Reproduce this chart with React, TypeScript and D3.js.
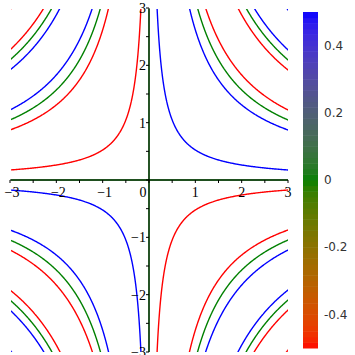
import * as d3 from 'd3';

// contour levels of f(x, y) = sin(x*y) and their colours
const levels = [-0.5, 0, 0.5];
const levelColors = ['#ff0000', '#008000', '#0000ff'];

const xTicks = [-3, -2, -1, 0, 1, 2, 3];
const yTicks = [-3, -2, -1, 1, 2, 3];
const minorTicks = d3.range(-3, 3.01, 0.5);
const barTicks = [-0.4, -0.2, 0, 0.2, 0.4];
const barLabels = ['-0.4', '-0.2', '0', '0.2', '0.4'];

const W = 355;
const H = 355;

export default function App() {
  const x = d3.scaleLinear().domain([-3, 3]).range([10, 288]);
  const y = d3.scaleLinear().domain([-3, 3]).range([352, 8]);

  // sample grid a little wider than the view so border edges get clipped
  const n = 400;
  const g0 = -3.1;
  const g1 = 3.1;
  const step = (g1 - g0) / (n - 1);
  const values = new Array(n * n);
  for (let j = 0; j < n; j++) {
    for (let i = 0; i < n; i++) {
      const gx = g0 + i * step;
      const gy = g0 + j * step;
      values[j * n + i] = Math.sin(gx * gy);
    }
  }
  const contours = d3.contours().size([n, n]).thresholds(levels)(values);

  const proj = d3.geoTransform({
    point(px: number, py: number) {
      const dx = g0 + (px - 0.5) * step;
      const dy = g0 + (py - 0.5) * step;
      this.stream.point(x(dx), y(dy));
    },
  });
  const path = d3.geoPath(proj);

  const color = d3
    .scaleLinear<string>()
    .domain([-0.5, 0, 0.5])
    .range(levelColors)
    .interpolate(d3.interpolateLab);

  const bar = d3.scaleLinear().domain([-0.5, 0.5]).range([348, 12]);
  const bands = d3.range(-0.5, 0.5, 1 / 60);

  return (
    <svg
      width={W}
      height={H}
      style={{ position: 'absolute', left: 0, top: 0, background: '#fff' }}
    >
      <defs>
        <clipPath id="plot">
          <rect x={x(-3) + 1} y={y(3) + 1} width={x(3) - x(-3) - 1} height={y(-3) - y(3) - 1} />
        </clipPath>
      </defs>

      <g clipPath="url(#plot)">
        {contours.map((c, k) => (
          <path
            key={k}
            d={path(c as any) || ''}
            fill="none"
            stroke={levelColors[levels.indexOf(c.value)]}
            strokeWidth={1.4}
          />
        ))}
      </g>

      {/* axes */}
      <g stroke="#000" strokeWidth={1}>
        <line x1={x(-3)} x2={x(3)} y1={y(0)} y2={y(0)} />
        <line x1={x(0)} x2={x(0)} y1={y(3)} y2={y(-3)} />
        {minorTicks.map((t) => (
          <line key={'xt' + t} x1={x(t)} x2={x(t)} y1={y(0)} y2={y(0) + 3} />
        ))}
        {minorTicks.map((t) => (
          <line key={'yt' + t} x1={x(0) - 3} x2={x(0)} y1={y(t)} y2={y(t)} />
        ))}
      </g>

      <g fontFamily="'Liberation Serif', serif" fontSize={14} fill="#000">
        {xTicks.map((t) => (
          <text
            key={'xl' + t}
            x={t === 0 ? x(0) - 6 : x(t) + (t < 0 ? 2 : 0)}
            y={y(0) + 17}
            textAnchor="middle"
          >
            {t < 0 ? '\u2212' + Math.abs(t) : String(t)}
          </text>
        ))}
        {yTicks.map((t) => (
          <text
            key={'yl' + t}
            x={x(0) - 3}
            y={y(t)}
            dy="0.35em"
            textAnchor="end"
          >
            {t < 0 ? '\u2212' + Math.abs(t) : String(t)}
          </text>
        ))}
      </g>

      {/* colour bar */}
      <g>
        {bands.map((v, k) => (
          <rect
            key={k}
            x={303}
            y={bar(v + 1 / 60)}
            width={15}
            height={bar(v) - bar(v + 1 / 60) + 0.5}
            fill={color(v + 1 / 120)}
          />
        ))}
      </g>
      <g fontFamily="'DejaVu Sans', sans-serif" fontSize={12} fill="#333">
        {barTicks.map((t, k) => (
          <text key={'bl' + t} x={324} y={bar(t)} dy="0.35em">
            {barLabels[k]}
          </text>
        ))}
      </g>
    </svg>
  );
}
